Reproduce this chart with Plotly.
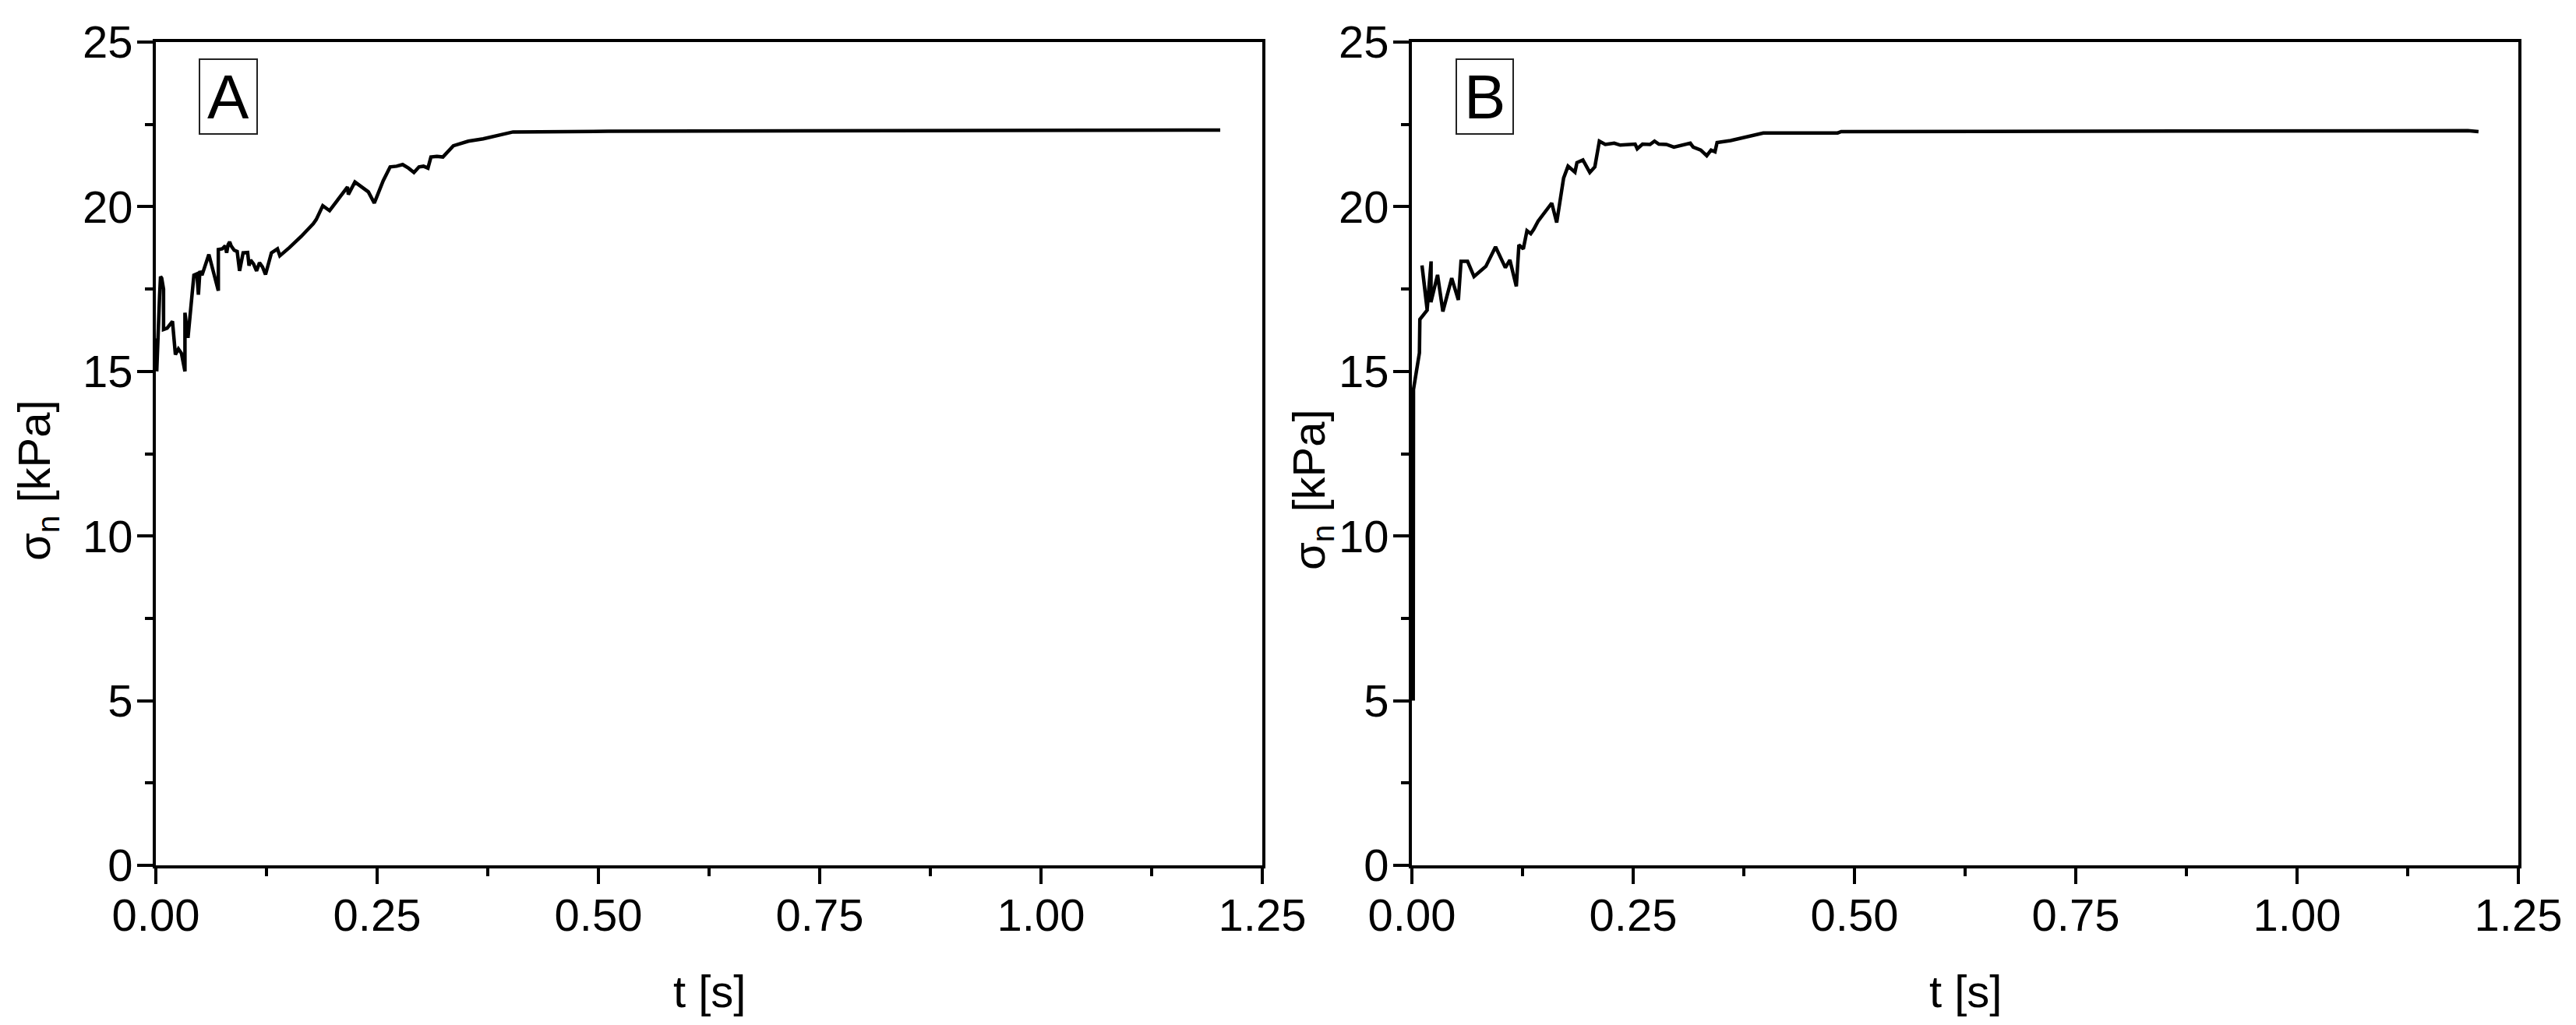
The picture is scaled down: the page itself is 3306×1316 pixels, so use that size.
import plotly.graph_objects as go

# ---- Data ----
t_A = [0.000, 0.001, 0.0043, 0.0053, 0.0066, 0.0087, 0.0087, 0.0127, 0.0188, 0.0221,
       0.0255, 0.0289, 0.0329, 0.0329, 0.0363, 0.038, 0.043, 0.0464, 0.0481, 0.0498,
       0.0521, 0.0599, 0.0706, 0.0706, 0.075, 0.0784, 0.080, 0.0817, 0.0834, 0.0851,
       0.0885, 0.0919, 0.0946, 0.0986, 0.1037, 0.1053, 0.107, 0.1104, 0.1138, 0.1171,
       0.1205, 0.1239, 0.1306, 0.1374, 0.1401, 0.1509, 0.1643, 0.1778, 0.1812, 0.1886,
       0.1963, 0.2047, 0.2165, 0.2175, 0.2249, 0.2401, 0.2468, 0.2569, 0.2647, 0.272,
       0.2788, 0.2855, 0.2916, 0.2973, 0.3024, 0.3074, 0.3108, 0.3175, 0.3243, 0.3361,
       0.353, 0.3698, 0.4035, 0.511, 0.80, 1.2025]
s_A = [16.0, 15.0, 17.33, 17.88, 17.83, 17.5, 16.27, 16.31, 16.52, 15.51,
       15.68, 15.55, 15.0, 16.78, 16.02, 16.44, 17.92, 17.96, 17.33, 18.05,
       17.92, 18.55, 17.45, 18.70, 18.72, 18.81, 18.6, 18.85, 18.93, 18.81,
       18.68, 18.64, 18.05, 18.6, 18.61, 18.21, 18.38, 18.26, 18.05, 18.3,
       18.17, 17.94, 18.6, 18.72, 18.51, 18.76, 19.1, 19.48, 19.61, 20.03,
       19.88, 20.18, 20.6, 20.37, 20.75, 20.45, 20.11, 20.79, 21.21, 21.23,
       21.28, 21.17, 21.04, 21.21, 21.23, 21.17, 21.51, 21.53, 21.51, 21.85,
       21.99, 22.06, 22.27, 22.29, 22.31, 22.33]

t_B = [0.0015, 0.0018, 0.0085, 0.009, 0.0173, 0.0114, 0.0173, 0.0217, 0.0215, 0.029,
       0.035, 0.045, 0.0525, 0.0555, 0.0629, 0.0702, 0.0836, 0.0945, 0.1056, 0.1107,
       0.118, 0.1209, 0.1259, 0.130, 0.1343, 0.1376, 0.1426, 0.158, 0.1636, 0.1714,
       0.1764, 0.1842, 0.1865, 0.1932, 0.201, 0.2067, 0.2118, 0.2185, 0.2286, 0.2354,
       0.2522, 0.2546, 0.2606, 0.269, 0.2741, 0.279, 0.2876, 0.296, 0.306, 0.3145,
       0.3178, 0.3263, 0.3331, 0.338, 0.3424, 0.3448, 0.360, 0.397, 0.481, 0.485,
       1.193, 1.205]
s_B = [5.0, 14.45, 15.56, 16.58, 16.86, 18.22, 16.9, 18.34, 17.1, 17.93,
       16.82, 17.83, 17.17, 18.34, 18.34, 17.88, 18.19, 18.78, 18.15, 18.38,
       17.58, 18.84, 18.72, 19.27, 19.18, 19.31, 19.56, 20.11, 19.52, 20.87,
       21.23, 21.05, 21.34, 21.42, 21.04, 21.21, 21.99, 21.89, 21.93, 21.87,
       21.90, 21.76, 21.90, 21.89, 21.99, 21.90, 21.89, 21.81, 21.87, 21.93,
       21.81, 21.72, 21.55, 21.72, 21.67, 21.95, 22.01, 22.24, 22.24, 22.28,
       22.31, 22.28]

x_ticks = [0.0, 0.25, 0.5, 0.75, 1.0, 1.25]
y_ticks = [0, 5, 10, 15, 20, 25]
panel_labels = ["A", "B"]

W, H = 3306, 1316
FONT = "Liberation Sans, Arial, sans-serif"

fig = go.Figure()
fig.add_trace(go.Scatter(x=t_A, y=s_A, mode="lines", line=dict(color="black", width=4.5),
                         xaxis="x", yaxis="y", showlegend=False))
fig.add_trace(go.Scatter(x=t_B, y=s_B, mode="lines", line=dict(color="black", width=4.5),
                         xaxis="x2", yaxis="y2", showlegend=False))

def xax(domain, anchor):
    return dict(domain=domain, anchor=anchor, range=[0, 1.25], tickvals=x_ticks,
                ticktext=[f"{v:.2f}" for v in x_ticks], automargin=False,
                ticks="outside", ticklen=20, tickwidth=3.5, tickcolor="black",
                ticklabelstandoff=-10,
                minor=dict(dtick=0.125, tick0=0, ticks="outside", ticklen=10, tickwidth=3.5, tickcolor="black"),
                showline=True, linewidth=4, linecolor="black", mirror=True,
                showgrid=False, zeroline=False,
                tickfont=dict(family=FONT, size=58, color="black"))

def yax(domain, anchor):
    return dict(domain=domain, anchor=anchor, range=[0, 25], tickvals=y_ticks, automargin=False,
                ticks="outside", ticklen=20, tickwidth=3.5, tickcolor="black",
                ticklabelstandoff=-6,
                minor=dict(dtick=2.5, tick0=0, ticks="outside", ticklen=10, tickwidth=3.5, tickcolor="black"),
                showline=True, linewidth=4, linecolor="black", mirror=True,
                showgrid=False, zeroline=False,
                tickfont=dict(family=FONT, size=58, color="black"))

ydom = [(H - 1111) / H, (H - 54) / H]
fig.update_layout(
    width=W, height=H, autosize=False,
    margin=dict(l=0, r=0, t=0, b=0, pad=0),
    paper_bgcolor="white", plot_bgcolor="white",
    xaxis=xax([200 / W, 1620 / W], "y"),
    yaxis=yax(ydom, "x"),
    xaxis2=xax([1812 / W, 3232 / W], "y2"),
    yaxis2=yax(ydom, "x2"),
)

ann = []
for xc in [910 / W, 2522 / W]:
    ann.append(dict(text="t [s]", x=xc, y=(H - 1272) / H, xref="paper", yref="paper",
                    showarrow=False, xanchor="center", yanchor="middle",
                    font=dict(family=FONT, size=58, color="black")))
for xc, yc in [(48 / W, (H - 617) / H), (1684 / W, (H - 628) / H)]:
    ann.append(dict(text="σ<sub>n</sub> [kPa]", x=xc, y=yc, xref="paper", yref="paper",
                    showarrow=False, xanchor="center", yanchor="middle", textangle=-90,
                    font=dict(family=FONT, size=58, color="black")))
shapes = []
for label, (bx0, bx1) in zip(panel_labels, [(256, 330), (1869, 1942)]):
    shapes.append(dict(type="rect", xref="paper", yref="paper",
                       x0=bx0 / W, x1=bx1 / W, y0=(H - 172) / H, y1=(H - 76) / H,
                       line=dict(color="#222222", width=2), fillcolor="rgba(0,0,0,0)"))
    ann.append(dict(text=label, x=(bx0 + bx1) / 2 / W, y=(H - 124) / H, xref="paper", yref="paper",
                    showarrow=False, xanchor="center", yanchor="middle",
                    font=dict(family=FONT, size=80, color="black")))
fig.update_layout(annotations=ann, shapes=shapes)

fig.write_html("out.html", config={"displayModeBar": False},
               post_script="document.body.style.margin='0';")
